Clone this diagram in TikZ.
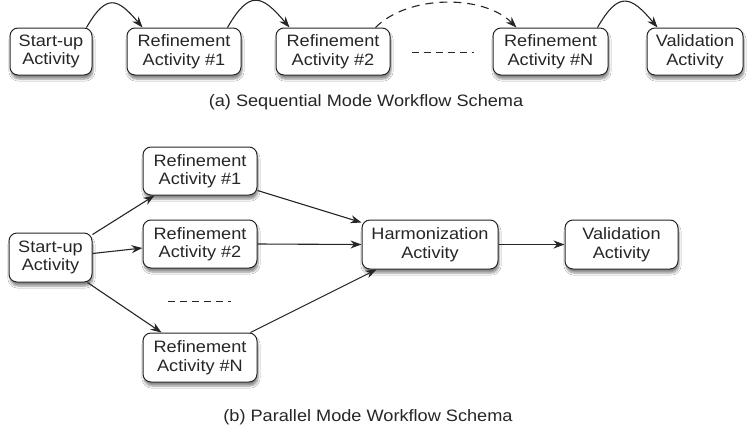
\documentclass[tikz,border=0pt]{standalone}
\usepackage{fontspec}
\setmainfont{Liberation Sans}[FakeStretch=1.1]
\usetikzlibrary{arrows.meta,shadows.blur,calc}
\begin{document}
\begin{tikzpicture}[x=1pt,y=-1pt,
  every node/.style={font=\fontsize{16.5}{18.5}\selectfont, text=black!85},
  act/.style={draw=black!85, line width=1pt, rounded corners=8pt, fill=white, align=center,
    inner sep=0pt,
    blur shadow={shadow xshift=1pt, shadow yshift=-4pt, shadow blur steps=6, shadow opacity=45}},
  conn/.style={draw=black!85, line width=1.1pt, -{Stealth[length=11pt,width=8pt]}},
  dconn/.style={conn, dash pattern=on 8pt off 6pt},
  dots/.style={draw=black!85, line width=1pt, dash pattern=on 7pt off 5pt}]
\useasboundingbox[fill=white] (0,0) rectangle (753,432);
% (a) sequential
\node[act, minimum width=82pt, minimum height=47pt] (s1) at (51,51.5) {Start-up\\Activity};
\node[act, minimum width=114pt, minimum height=47pt] (s2) at (184,51.5) {Refinement\\Activity \#1};
\node[act, minimum width=114pt, minimum height=47pt] (s3) at (333,51.5) {Refinement\\Activity \#2};
\node[act, minimum width=115pt, minimum height=47pt] (s4) at (550.5,51.5) {Refinement\\Activity \#N};
\node[act, minimum width=96pt, minimum height=47pt] (s5) at (695,51.5) {Validation\\Activity};
\draw[conn] ([xshift=-6pt]s1.north east) to[out=60,in=130,looseness=1.8] ([xshift=16pt]s2.north west);
\draw[conn] ([xshift=-14pt]s2.north east) to[out=60,in=130,looseness=1.8] ([xshift=14pt]s3.north west);
\draw[dconn] ([xshift=-15pt]s3.north east) to[out=45,in=135,looseness=0.85] ([xshift=24pt]s4.north west);
\draw[conn] ([xshift=-11pt]s4.north east) to[out=60,in=130,looseness=1.8] ([xshift=11pt]s5.north west);
\draw[dots] (412,52) -- (474,52);
\node (capa) at (366,102) {(a) Sequential Mode Workflow Schema};
% (b) parallel
\node[act, minimum width=83pt, minimum height=49pt] (p0) at (50.5,257.5) {Start-up\\Activity};
\node[act, minimum width=114pt, minimum height=48pt] (p1) at (200,171) {Refinement\\Activity \#1};
\node[act, minimum width=114pt, minimum height=48pt] (p2) at (200,244) {Refinement\\Activity \#2};
\node[act, minimum width=114pt, minimum height=49pt] (pn) at (200,357.5) {Refinement\\Activity \#N};
\node[act, minimum width=136pt, minimum height=49pt] (ph) at (430,244.5) {Harmonization\\Activity};
\node[act, minimum width=113pt, minimum height=49pt] (pv) at (621.5,244.5) {Validation\\Activity};
\draw[conn] ([yshift=-2pt]p0.north east) -- ([xshift=12pt]p1.south west);
\draw[conn] ([yshift=4pt]p0.east) -- ([yshift=-4pt]p2.west);
\draw[conn] ([xshift=-5pt]p0.south east) -- ([xshift=19pt]pn.north west);
\draw[conn] ([yshift=5pt]p1.south east) -- ([yshift=-3pt]ph.north west);
\draw[conn] (p2.east) -- (ph.west);
\draw[conn] ([xshift=-7pt]pn.north east) -- ([xshift=15pt]ph.south west);
\draw[conn] (ph.east) -- (pv.west);
\draw[dots] (168,301) -- (231,301);
\node (capb) at (368,417) {(b) Parallel Mode Workflow Schema};
\end{tikzpicture}
\end{document}
